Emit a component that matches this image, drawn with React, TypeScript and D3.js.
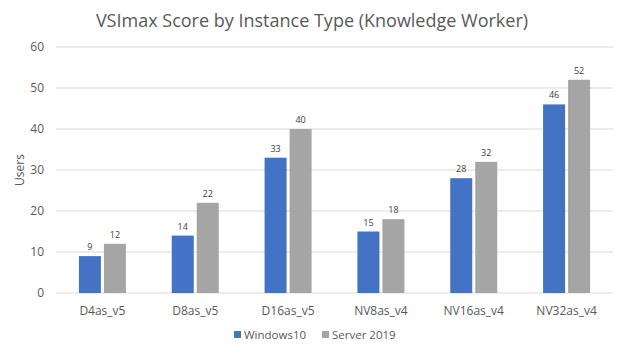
import React, { useEffect, useRef } from "react";
import * as d3 from "d3";

const categories = ["D4as_v5", "D8as_v5", "D16as_v5", "NV8as_v4", "NV16as_v4", "NV32as_v4"];
const seriesNames = ["Windows10", "Server 2019"];
const windows10 = [9, 14, 33, 15, 28, 46];
const server2019 = [12, 22, 40, 18, 32, 52];
const yTicks = [0, 10, 20, 30, 40, 50, 60];
const colors = ["#4472C4", "#A5A5A5"];

const width = 624;
const height = 353;
const font = "'Open Sans', 'Noto Sans', sans-serif";

const App: React.FC = () => {
  const svgRef = useRef<SVGSVGElement>(null);

  useEffect(() => {
    if (!svgRef.current) return;
    const svg = d3.select(svgRef.current);
    svg.selectAll("*").remove();

    const margin = { top: 47, right: 11, bottom: 60, left: 56 };
    const innerWidth = width - margin.left - margin.right;
    const innerHeight = height - margin.top - margin.bottom;

    const g = svg.append("g")
      .attr("transform", `translate(${margin.left},${margin.top})`);

    const x = d3.scaleBand().domain(categories).range([0, innerWidth]);
    const x1 = d3.scaleBand().domain(seriesNames).range([0, 47]).paddingInner(0.12);
    const y = d3.scaleLinear().domain([0, 60]).range([innerHeight, 0]);

    // grid
    g.append("g")
      .selectAll("line")
      .data(yTicks)
      .join("line")
      .attr("x1", 0)
      .attr("x2", innerWidth)
      .attr("y1", d => y(d))
      .attr("y2", d => y(d))
      .attr("stroke", "#D9D9D9")
      .attr("stroke-width", 1);

    // y tick labels
    g.append("g")
      .selectAll("text")
      .data(yTicks)
      .join("text")
      .attr("x", -12)
      .attr("y", d => y(d))
      .attr("dy", "0.35em")
      .attr("text-anchor", "end")
      .attr("fill", "#595959")
      .style("font-size", "12px")
      .style("font-family", font)
      .text(d => d);

    const rows = categories.map((c, i) => ({ c, values: [windows10[i], server2019[i]] }));

    const groups = g.selectAll("g.cat")
      .data(rows)
      .join("g")
      .attr("class", "cat")
      .attr("transform", d => `translate(${(x(d.c) || 0) + x.bandwidth() / 2 - 23.5},0)`);

    groups.selectAll("rect")
      .data(d => d.values.map((v, i) => ({ name: seriesNames[i], v, i })))
      .join("rect")
      .attr("x", d => x1(d.name) || 0)
      .attr("y", d => y(d.v))
      .attr("width", x1.bandwidth())
      .attr("height", d => innerHeight - y(d.v))
      .attr("fill", d => colors[d.i]);

    groups.selectAll("text")
      .data(d => d.values.map((v, i) => ({ name: seriesNames[i], v, i })))
      .join("text")
      .attr("x", d => (x1(d.name) || 0) + x1.bandwidth() / 2)
      .attr("y", d => y(d.v) - 6)
      .attr("text-anchor", "middle")
      .attr("fill", "#404040")
      .style("font-size", "9px")
      .style("font-family", font)
      .text(d => d.v);

    // x labels
    g.append("g")
      .selectAll("text")
      .data(categories)
      .join("text")
      .attr("x", d => (x(d) || 0) + x.bandwidth() / 2)
      .attr("y", innerHeight + 22)
      .attr("text-anchor", "middle")
      .attr("fill", "#595959")
      .style("font-size", "12px")
      .style("font-family", font)
      .text(d => d);

    // y axis title
    svg.append("text")
      .attr("transform", `translate(24,${margin.top + innerHeight / 2}) rotate(-90)`)
      .attr("text-anchor", "middle")
      .attr("fill", "#595959")
      .style("font-size", "12px")
      .style("font-family", font)
      .text("Users");

    // title
    svg.append("text")
      .attr("x", width / 2)
      .attr("y", 27)
      .attr("text-anchor", "middle")
      .attr("fill", "#595959")
      .style("font-size", "18px")
      .style("font-family", font)
      .text("VSImax Score by Instance Type (Knowledge Worker)");

    // legend
    const legendX = [234, 322];
    const legend = svg.append("g");
    seriesNames.forEach((name, i) => {
      legend.append("rect")
        .attr("x", legendX[i])
        .attr("y", 331)
        .attr("width", 7)
        .attr("height", 7)
        .attr("fill", colors[i]);
      legend.append("text")
        .attr("x", legendX[i] + 10)
        .attr("y", 339)
        .attr("fill", "#595959")
        .style("font-size", "11.5px")
        .style("font-family", font)
        .text(name);
    });
  }, []);

  return (
    <svg
      ref={svgRef}
      width={width}
      height={height}
      style={{ position: "absolute", left: 0, top: 0, background: "#ffffff" }}
    />
  );
};

export default App;
